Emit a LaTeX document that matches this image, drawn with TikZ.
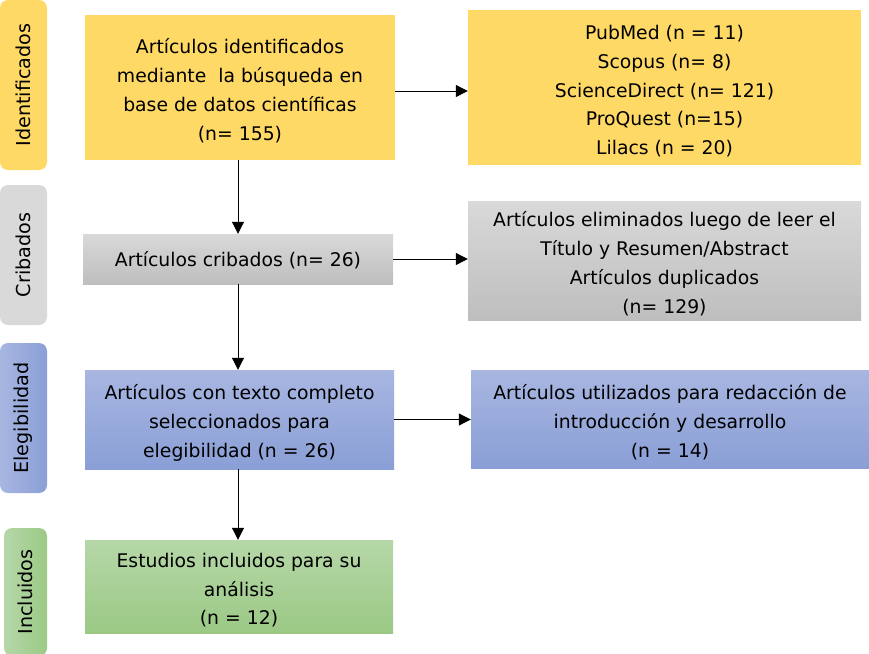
\documentclass[tikz,border=0pt]{standalone}
\usepackage{fontspec}
\setmainfont{DejaVu Sans}
\usetikzlibrary{arrows.meta,calc}
\definecolor{gold}{HTML}{FFD966}
\definecolor{gryA}{HTML}{D9D9D9}
\definecolor{gryB}{HTML}{BEBEBE}
\definecolor{bluA}{HTML}{A8B6E1}
\definecolor{bluB}{HTML}{8A9FD6}
\definecolor{grnA}{HTML}{B6D7A8}
\definecolor{grnB}{HTML}{9BC985}
\newcommand{\dnstrut}{\rule{0pt}{21.5pt}}
\tikzset{
  base/.style={rectangle, inner sep=0pt, align=center, font=\fontsize{18.8}{28.8}\selectfont, text=black},
  side/.style={base, rounded corners=8pt, minimum width=47pt},
  sidetext/.style={base, rotate=90, font=\fontsize{19.2}{24}\selectfont},
  mainbox/.style={base},
  yel/.style={fill=gold},
  gry/.style={top color=gryA, bottom color=gryB},
  blu/.style={top color=bluA, bottom color=bluB},
  grn/.style={top color=grnA, bottom color=grnB},
  arr/.style={draw=black, line width=1pt, -{Triangle[length=12pt,width=12pt]}}
}
\begin{document}
\begin{tikzpicture}[x=1pt,y=-1pt]
\useasboundingbox (0,0) rectangle (869,653);
% side labels
\node[side, fill=gold, minimum height=170pt] (sid) at (23.5,85) {};
\node[sidetext] (sidt) at (sid.center) {Identificados};
\node[side, fill=gryA, minimum height=140pt] (scr) at (23.5,255) {};
\node[sidetext] (scrt) at (scr.center) {Cribados};
\node[side, left color=bluA, right color=bluB, minimum height=150pt] (sel) at (23.5,418) {};
\node[sidetext] (selt) at (sel.center) {Elegibilidad};
\node[side, left color=grnA, right color=grnB, minimum width=43pt, minimum height=128pt] (sin) at (25.5,592) {};
\node[sidetext] (sint) at (sin.center) {Incluidos};
% main column
\node[mainbox, yel, minimum width=310pt, minimum height=145pt] (b1) at (240,87.5)
  {\dnstrut Artículos identificados\\mediante\ \ la búsqueda en\\base de datos científicas\\(n= 155)};
\node[mainbox, gry, minimum width=310pt, minimum height=50pt] (b2) at (238,259)
  {\rule{0pt}{18pt}Artículos cribados (n= 26)};
\node[mainbox, blu, minimum width=309pt, minimum height=99pt] (b3) at (239.5,419.5)
  {\dnstrut Artículos con texto completo\\seleccionados para\\elegibilidad (n = 26)};
\node[mainbox, grn, minimum width=308pt, minimum height=93pt] (b4) at (239,586.5)
  {\dnstrut Estudios incluidos para su\\análisis\\(n = 12)};
% right column
\node[mainbox, yel, minimum width=393pt, minimum height=155pt] (r1) at (664.5,87.5)
  {\dnstrut PubMed (n = 11)\\Scopus (n= 8)\\ScienceDirect\ (n= 121)\\ProQuest (n=15)\\Lilacs (n = 20)};
\node[mainbox, gry, minimum width=393pt, minimum height=119pt] (r2) at (664.5,260.5)
  {\dnstrut Artículos eliminados luego de leer el\\Título y Resumen/Abstract\\Artículos duplicados\\(n= 129)};
\node[mainbox, blu, minimum width=398pt, minimum height=98pt] (r3) at (670,419)
  {\dnstrut Artículos utilizados para redacción de\\introducción y desarrollo\\(n = 14)};
% connectors
\draw[arr] (b1.south -| b2.north) -- (b2.north);
\draw[arr] (b2.south) -- (b2.south |- b3.north);
\draw[arr] (b3.south -| b2.south) -- (b2.south |- b4.north);
\draw[arr] ([yshift=-3.5pt]b1.east) -- ([yshift=-3.5pt]b1.east -| r1.west);
\draw[arr] (b2.east) -- (b2.east -| r2.west);
\draw[arr] (b3.east) -- (b3.east -| r3.west);
\end{tikzpicture}
\end{document}
